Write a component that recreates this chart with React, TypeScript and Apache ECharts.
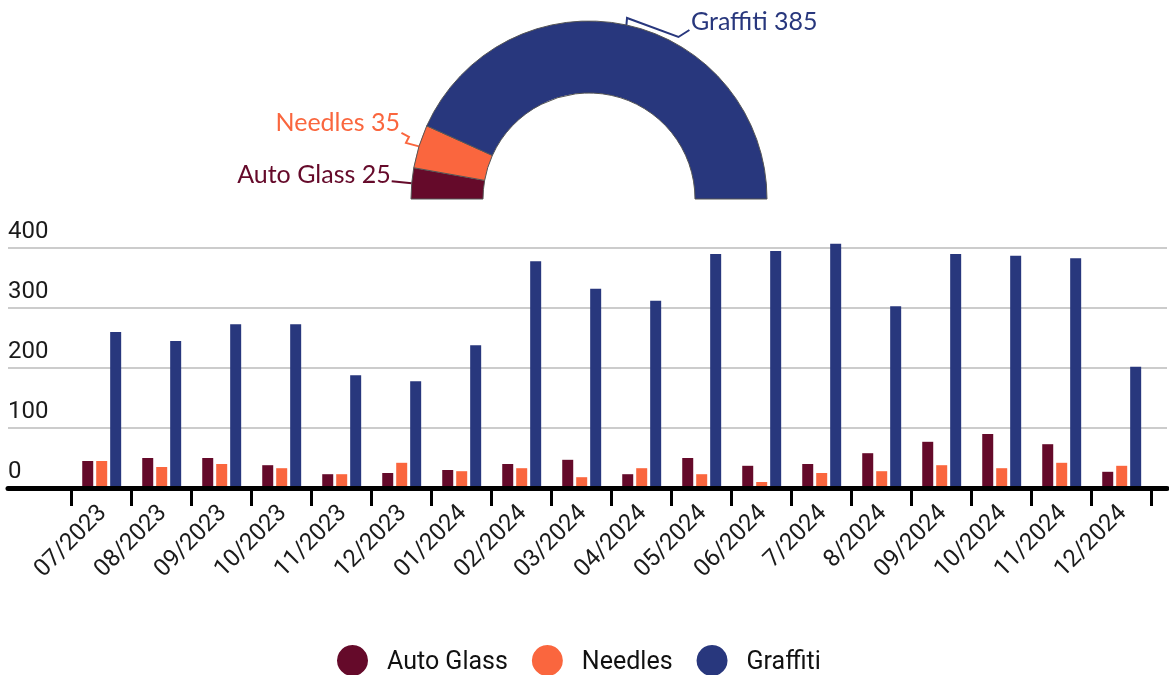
import React, { useEffect, useRef } from "react";
import * as echarts from "echarts";

const categories = [
  "07/2023", "08/2023", "09/2023", "10/2023", "11/2023", "12/2023",
  "01/2024", "02/2024", "03/2024", "04/2024", "05/2024", "06/2024",
  "7/2024", "8/2024", "09/2024", "10/2024", "11/2024", "12/2024",
];
const autoGlass = [45, 50, 50, 38, 23, 25, 30, 40, 47, 23, 50, 37, 40, 58, 77, 90, 73, 27];
const needles = [45, 35, 40, 33, 23, 42, 28, 33, 18, 33, 23, 10, 25, 28, 38, 33, 42, 37];
const graffiti = [260, 245, 273, 273, 188, 178, 238, 378, 332, 312, 390, 395, 407, 303, 390, 387, 383, 202];

const pieNames = ["Auto Glass", "Needles", "Graffiti"];
const pieValues = [25, 35, 385];

const yTicks = [0, 100, 200, 300, 400];

const COLORS = ["#650a2a", "#fa663e", "#28377d"];
const AXIS_FONT = "Roboto, 'Liberation Sans', sans-serif";
const PIE_FONT = "Lato, 'Noto Sans', sans-serif";

export default function App() {
  const ref = useRef<HTMLDivElement>(null);

  useEffect(() => {
    if (!ref.current) return;
    const chart = echarts.init(ref.current, null, { renderer: "svg" });

    const labelLayout = (params: any) => {
      const pts = params.labelLinePoints;
      if (!pts || !pts.length) return {};
      const a = pts[0];
      const i = params.dataIndex;
      if (i === 2) {
        return {
          x: a[0] + 64.5,
          y: a[1] - 5,
          align: "left",
          verticalAlign: "middle",
          labelLinePoints: [
            [a[0], a[1]],
            [a[0] + 0.6, a[1] - 7],
            [a[0] + 52, a[1] + 12],
            [a[0] + 63, a[1] + 5],
          ],
        };
      }
      if (i === 1) {
        return {
          x: a[0] - 19,
          y: a[1] - 25,
          align: "right",
          verticalAlign: "middle",
          labelLinePoints: [
            [a[0], a[1]],
            [a[0] - 13, a[1] - 3.5],
            [a[0] - 10, a[1] - 9.5],
            [a[0] - 17.5, a[1] - 13.5],
          ],
        };
      }
      return {
        x: a[0] - 21,
        y: a[1] - 10.5,
        align: "right",
        verticalAlign: "middle",
        labelLinePoints: [
          [a[0], a[1]],
          [a[0] - 20, a[1] - 2],
        ],
      };
    };

    const option: any = {
      animation: false,
      grid: [
        { left: 8, right: 2, top: 248, height: 240 },
        { left: 71.7, width: 1080, top: 248, height: 240 },
      ],
      legend: {
        data: pieNames,
        left: 337,
        top: 645,
        padding: 0,
        icon: "circle",
        itemWidth: 31,
        itemHeight: 31,
        itemGap: 24,
        textStyle: {
          fontFamily: AXIS_FONT,
          fontSize: 25,
          color: "#111",
          padding: [0, 0, 0, 14],
        },
      },
      xAxis: [
        {
          gridIndex: 0,
          type: "value",
          min: 0,
          max: 1,
          z: 10,
          axisLine: { show: true, lineStyle: { color: "#000", width: 5 } },
          axisTick: { show: false },
          axisLabel: { show: false },
          splitLine: { show: false },
        },
        {
          gridIndex: 1,
          type: "category",
          data: categories,
          boundaryGap: true,
          axisLine: { show: false },
          axisTick: { show: true, length: 18, lineStyle: { color: "#000", width: 3 } },
          axisLabel: {
            rotate: 45,
            margin: 20,
            interval: 0,
            padding: [14, 0, 0, 0],
            fontFamily: AXIS_FONT,
            fontSize: 24,
            color: "#1a1a1a",
          },
          splitLine: { show: false },
        },
      ],
      yAxis: [
        {
          gridIndex: 0,
          type: "value",
          min: yTicks[0],
          max: yTicks[yTicks.length - 1],
          interval: 100,
          axisLine: { show: false },
          axisTick: { show: false },
          splitLine: { show: true, lineStyle: { color: "#cccccc", width: 2 } },
          axisLabel: {
            inside: true,
            margin: 0,
            align: "left",
            verticalAlign: "bottom",
            padding: [0, 0, 6, 0],
            fontFamily: AXIS_FONT,
            fontSize: 24,
            color: "#1a1a1a",
          },
        },
        {
          gridIndex: 1,
          type: "value",
          min: yTicks[0],
          max: yTicks[yTicks.length - 1],
          show: false,
          splitLine: { show: false },
        },
      ],
      series: [
        {
          name: "Auto Glass",
          type: "bar",
          xAxisIndex: 1,
          yAxisIndex: 1,
          data: autoGlass,
          barWidth: 11,
          barGap: "27%",
          clip: false,
          itemStyle: { color: COLORS[0] },
        },
        {
          name: "Needles",
          type: "bar",
          xAxisIndex: 1,
          yAxisIndex: 1,
          data: needles,
          barWidth: 11,
          barGap: "27%",
          clip: false,
          itemStyle: { color: COLORS[1] },
        },
        {
          name: "Graffiti",
          type: "bar",
          xAxisIndex: 1,
          yAxisIndex: 1,
          data: graffiti,
          barWidth: 11,
          barGap: "27%",
          clip: false,
          itemStyle: { color: COLORS[2] },
        },
        {
          type: "pie",
          center: [589, 199],
          radius: [106, 178],
          startAngle: 180,
          endAngle: 0,
          clockwise: true,
          avoidLabelOverlap: false,
          itemStyle: { borderColor: "#555", borderWidth: 1 },
          label: {
            show: true,
            position: "outside",
            formatter: "{b} {c}",
            fontFamily: PIE_FONT,
            fontSize: 25,
          },
          labelLine: { show: true, length: 8, length2: 10, lineStyle: { width: 2 } },
          labelLayout,
          data: pieNames.map((n, i) => ({
            name: n,
            value: pieValues[i],
            itemStyle: { color: COLORS[i] },
            label: { color: COLORS[i] },
            labelLine: { lineStyle: { color: COLORS[i] } },
          })),
        },
      ],
    };

    chart.setOption(option);
    return () => chart.dispose();
  }, []);

  return (
    <div
      ref={ref}
      style={{ position: "fixed", left: 0, top: 0, width: 1169, height: 675 }}
    />
  );
}
